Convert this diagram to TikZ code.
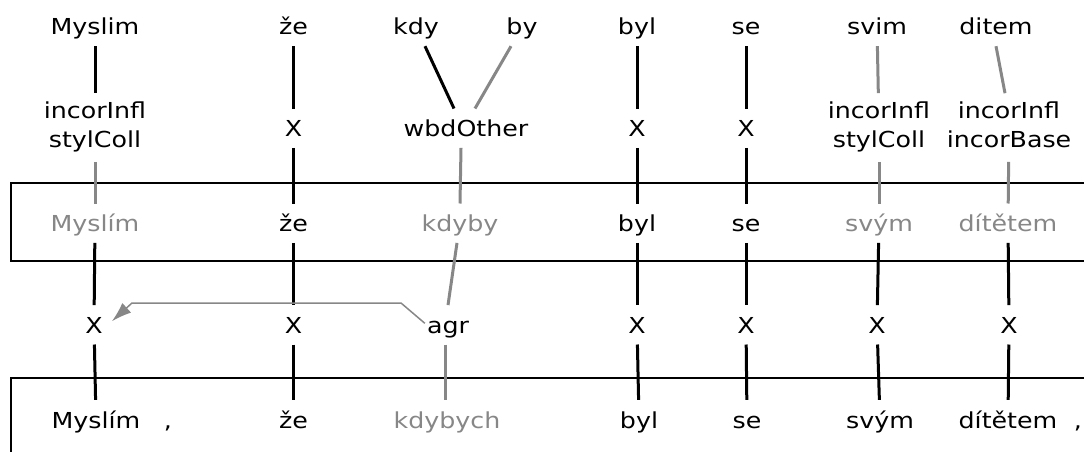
\documentclass[tikz,border=0pt]{standalone}
\usepackage{fontspec}
\setmainfont[FakeStretch=1.15]{DejaVu Sans}
\usetikzlibrary{arrows.meta}
\definecolor{lgray}{gray}{0.53}
\tikzstyle{word}=[anchor=base,inner xsep=2pt,inner ysep=6pt,text height=22pt,text depth=5pt,font=\fontsize{22}{28.6}\selectfont]
\tikzstyle{gword}=[word,text=lgray]
\tikzstyle{err}=[align=center,inner xsep=2pt,inner ysep=5.5pt,font=\fontsize{22}{28.6}\selectfont]
\tikzstyle{link}=[draw,line width=3pt,-]
\tikzstyle{glink}=[link,lgray]
\tikzstyle{box}=[draw,line width=1.4pt]
\tikzstyle{agrarrow}=[draw,line width=1.5pt,lgray,-{Latex[length=20pt,width=13pt]}]

\begin{document}
\begin{tikzpicture}[x=1pt,y=-1pt]
    \useasboundingbox (0,0) rectangle (1084,452);
    \clip (0,0) rectangle (1084,452);
    % The two sentence boxes
    \path[box] (11,183) rectangle (1100,261);
    \path[box] (11,378) rectangle (1100,475);
    % Typed words
    \foreach \pos/\name/\lbl in {{(95,35)/m1/Myslim}, {(293.5,35)/ze1/že},
        {(416,35)/kdy1/kdy}, {(522,35)/by1/by}, {(637,35)/byl1/byl},
        {(746,35)/se1/se}, {(877,35)/svim1/svim}, {(996,35)/ditem1/ditem}}
        \node[word] (\name) at \pos {\lbl};
    % Error tags
    \foreach \pos/\name/\lbl in {{(293.5,136.7)/x2/X}, {(466,136.7)/wbd/wbdOther},
        {(637,136.7)/x4/X}, {(746,136.7)/x5/X}}
        \node[word] (\name) at \pos {\lbl};
    \node[err] (err1) at (95,127.5) {incorInfl\strut\\stylColl\strut};
    \node[err] (err6) at (879,127.5) {incorInfl\strut\\stylColl\strut};
    \node[err] (err7) at (1009,127.5) {incorInfl\strut\\incorBase\strut};
    % First corrected sentence
    \foreach \pos/\name/\lbl in {{(293.5,231.7)/n2/že}, {(637,231.7)/n4/byl},
        {(746,231.7)/n5/se}}
        \node[word] (\name) at \pos {\lbl};
    \foreach \pos/\name/\lbl in {{(95,231.7)/n1/Myslím}, {(460,231.7)/n3/kdyby},
        {(879,231.7)/n6/svým}, {(1008,231.7)/n7/dítětem}}
        \node[gword] (\name) at \pos {\lbl};
    % Second level tags
    \foreach \pos/\name/\lbl in {{(94,333.3)/a1/X}, {(293.5,333.3)/a2/X},
        {(448,333.3)/agr/agr}, {(637,333.3)/a4/X}, {(746,333.3)/a5/X},
        {(877,333.3)/a6/X}, {(1009,333.3)/a7/X}}
        \node[word] (\name) at \pos {\lbl};
    % Final sentence
    \foreach \pos/\name/\lbl in {{(96,428)/s1/Myslím}, {(293.5,428)/s2/že},
        {(639,428)/s4/byl}, {(747,428)/s5/se}, {(880,428)/s6/svým},
        {(1008,428)/s7/dítětem}}
        \node[word] (\name) at \pos {\lbl};
    \node[gword] (s3) at (447,428) {kdybych};
    \node[word] (cm1) at (168,428) {,};
    \node[word] (cm2) at (1078,428) {,};
    % Connect the levels
    \foreach \source/\dest in {m1/err1, ze1/x2, byl1/x4, se1/x5, x2/n2, x4/n4,
        x5/n5, n1/a1, n2/a2, n4/a4, n5/a5, n6/a6, n7/a7, a1/s1, a2/s2, a4/s4,
        a5/s5, a6/s6, a7/s7}
        \path[link] (\source) -- (\dest);
    \foreach \source/\dest in {svim1/err6, err1/n1, err6/n6, err7/n7}
        \path[glink] (\source) -- (\dest);
    \path[link] ([xshift=9pt]kdy1.south) -- ([xshift=-12pt]wbd.north);
    \path[glink] ([xshift=-11pt]by1.south) -- ([xshift=9pt]wbd.north);
    \path[glink] (ditem1.south) -- ([xshift=-4pt]err7.north);
    \path[glink] ([xshift=-5pt]wbd.south) -- (n3.north);
    \path[glink] ([xshift=-3pt]n3.south) -- (agr.north);
    \path[glink] ([xshift=-3pt]agr.south) -- ([xshift=-2pt]s3.north);
    % Agreement arrow
    \coordinate (bendR) at (401,303);
    \coordinate (bendL) at (132,303);
    \path[agrarrow] ([yshift=10pt]agr.base west) -- (bendR) -- (bendL)
        -- ([xshift=7pt,yshift=12pt]a1.base east);
\end{tikzpicture}
\end{document}
